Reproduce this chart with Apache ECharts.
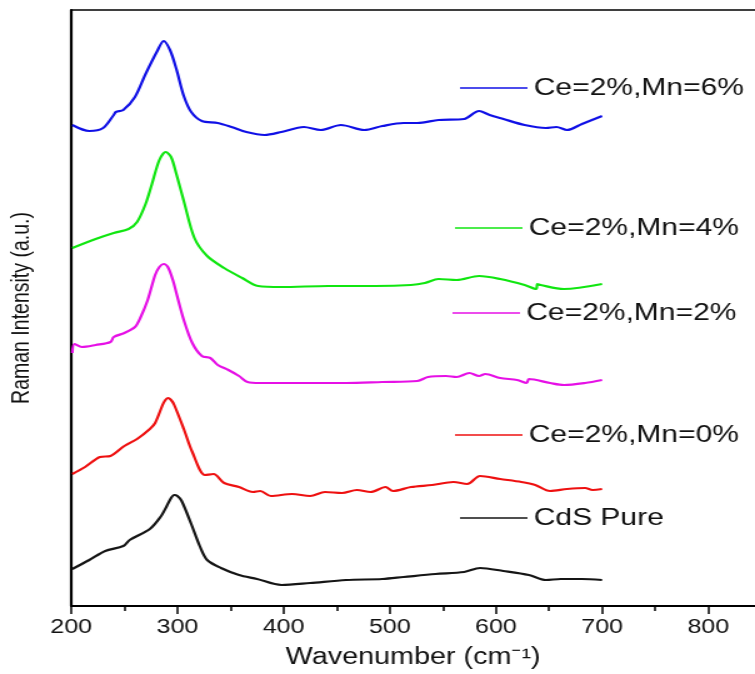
<!DOCTYPE html>
<html>
<head>
<meta charset="utf-8">
<script src="https://cdn.jsdelivr.net/npm/echarts@6/dist/echarts.min.js"></script>
<style>
  html, body { margin: 0; padding: 0; background: #fff; overflow: hidden; }
  #chart { width: 604px; height: 674px; transform: scaleX(1.25); transform-origin: 0 0; }
</style>
</head>
<body>
<div id="chart"></div>
<script>
// ---- data (wavenumber in cm^-1, intensity in arbitrary units, offset per trace) ----
const seriesNames = ['Ce=2%,Mn=6%', 'Ce=2%,Mn=4%', 'Ce=2%,Mn=2%', 'Ce=2%,Mn=0%', 'CdS Pure'];
const seriesColors = ['#1010e6', '#10e610', '#e610e6', '#ee1010', '#151515'];

const blueX = [201,217,230,240,242,249,260,270,281,287,293,299,306,313,323,338,351,365,382,398,419,435,454,476,493,513,526,546,570,584,594,607,627,647,657,667,681,700];
const blueY = [481,475,478,491,494,496,509,532,555,565,556,537,510,494,485,483,479,474,471,474,479,476,481,476,480,483,483,486,487,495,491,487,481,478,479,476,482,490];

const greenX = [201,223,240,254,262,270,276,283,289,294,299,306,316,328,344,361,376,398,442,486,520,533,546,563,584,604,627,638,639,642,664,700];
const greenY = [358,367,373,377,384,402,422,446,454,449,432,405,368,350,338,328,320,319,320,320,321,323,327,326,330,327,321,317,322,321,317,322];

const magentaX = [201,203,210,223,237,240,250,260,265,272,279,283,287,291,296,299,306,314,323,331,338,348,358,366,378,398,425,459,493,526,536,553,563,575,584,590,604,620,629,631,651,664,684,700];
const magentaY = [253,262,259,261,264,269,273,279,288,306,331,339,342,339,325,313,286,263,250,248,241,236,230,224,223,223,223,223,224,225,229,230,229,233,230,232,228,226,223,227,223,221,223,226];

const redX = [201,213,227,237,250,262,274,279,286,288,291,294,297,306,314,326,334,344,358,371,378,388,408,425,439,455,469,482,496,503,520,540,560,573,585,604,624,637,651,667,684,691,700];
const redY = [132,139,149,150,160,167,177,183,201,205,208,206,201,177,154,131,132,123,119,114,115,110,112,110,114,113,116,114,119,115,119,121,124,122,130,127,124,121,115,117,118,116,117];

const blackX = [201,217,232,249,255,274,284,290,294,297,300,304,313,321,328,341,358,375,398,425,459,493,513,543,570,585,607,631,647,661,681,700];
const blackY = [37,46,55,60,66,77,89,100,108,111,110,105,82,60,46,38,31,27,21,23,26,27,29,32,34,38,35,31,26,27,27,26];

const majorTicks = [200, 300, 400, 500, 600, 700, 800];
const minorTicks = [250, 350, 450, 550, 650, 750];

// ---- build ----
const xs = [blueX, greenX, magentaX, redX, blackX];
const ys = [blueY, greenY, magentaY, redY, blackY];
const zip = (a, b) => a.map((v, i) => [v, b[i]]);

const FONT = 'Liberation Sans, Arial, sans-serif';
const legendLeft = [368, 364, 362, 364, 368];
const legendTop = [76, 216, 301, 423, 506];

const chart = echarts.init(document.getElementById('chart'), null, { renderer: 'canvas' });
chart.setOption({
  animation: false,
  backgroundColor: '#ffffff',
  grid: { left: 56.8, right: 0, top: 10, bottom: 68, containLabel: false },
  legend: seriesNames.map((n, i) => ({
    data: [n],
    left: legendLeft[i],
    top: legendTop[i],
    padding: 0,
    icon: 'rect',
    itemWidth: 54,
    itemHeight: 1.6,
    selectedMode: false,
    textStyle: { fontFamily: FONT, fontSize: 24, color: '#111' }
  })),
  xAxis: [
    {
      type: 'value', position: 'bottom', min: 200, max: 844, interval: 100,
      name: 'Wavenumber (cm\u207B\u00B9)', nameLocation: 'middle', nameGap: 40,
      nameTextStyle: { fontFamily: FONT, fontSize: 23, color: '#111' },
      axisLine: { show: true, onZero: false, lineStyle: { color: '#000', width: 2 } },
      axisTick: { show: true, inside: false, length: 8, lineStyle: { color: '#000', width: 1.5 } },
      axisLabel: { show: true, margin: 11, fontFamily: FONT, fontSize: 20, color: '#111', showMaxLabel: false,
        formatter: v => (majorTicks.indexOf(v) >= 0 ? String(v) : '') },
      splitLine: { show: false }
    },
    {
      type: 'value', position: 'bottom', min: 200, max: 844, interval: 50,
      axisLine: { show: false },
      axisTick: { show: true, inside: false, length: 5, customValues: minorTicks, lineStyle: { color: '#000', width: 1.5 } },
      axisLabel: { show: false },
      splitLine: { show: false }
    },
    {
      type: 'value', position: 'top', min: 200, max: 844,
      axisLine: { show: true, onZero: false, lineStyle: { color: '#000', width: 1.5 } },
      axisTick: { show: false }, axisLabel: { show: false }, splitLine: { show: false }
    }
  ],
  yAxis: {
    type: 'value', min: 0, max: 596,
    name: 'Raman Intensity (a.u.)', nameLocation: 'middle', nameGap: 29, nameRotate: 90,
    nameTextStyle: { fontFamily: FONT, fontSize: 19.5, color: '#111' },
    axisLine: { show: true, onZero: false, lineStyle: { color: '#000', width: 2.2 } },
    axisTick: { show: false }, axisLabel: { show: false }, splitLine: { show: false }
  },
  series: seriesNames.map((n, i) => ({
    name: n,
    type: 'line',
    xAxisIndex: 0,
    data: zip(xs[i], ys[i]),
    showSymbol: false,
    symbol: 'none',
    smooth: 0.3,
    color: seriesColors[i],
    lineStyle: { width: 2.2, color: seriesColors[i] },
    emphasis: { disabled: true }
  }))
});
</script>
</body>
</html>
